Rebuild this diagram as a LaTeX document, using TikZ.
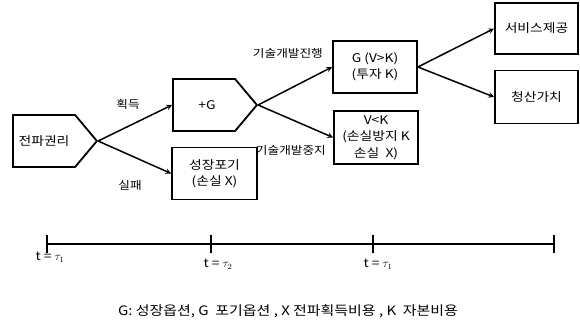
\documentclass[tikz,border=0pt]{standalone}
\usepackage{fontspec}
\setmainfont{Noto Sans CJK KR}[FakeStretch=1.15]
\usetikzlibrary{shapes.symbols, arrows}
\tikzstyle{option} = [
    signal,
    signal to=east,
    signal pointer angle=100,
    minimum width=84pt,
    minimum height=52pt,
    inner sep=0pt,
    line width=1.8pt,
    draw=black
]
\tikzstyle{outcome} = [
    rectangle,
    minimum width=84pt,
    minimum height=52pt,
    align=center,
    line width=1.8pt,
    draw=black
]
\tikzstyle{branch} = [inner sep=1pt, font=\fontsize{11}{14}\selectfont]
\tikzstyle{arrow} = [line width=1.5pt,->,>=stealth]
\tikzstyle{timeline} = [line width=1.1pt]
\tikzstyle{timetick} = [line width=1.8pt]

\begin{document}
\begin{tikzpicture}[x=1pt,y=-1pt,
    font=\fontsize{12}{16.5}\selectfont]

\useasboundingbox (0,0) rectangle (580,326);

\node (right) [option] at (44,141) {전파권리};

\node (plusg) [option] at (204,105) {\hspace{6pt}+G};

\node (giveup) [outcome, minimum width=85pt] at (214.5,173.5)
{성장포기\\(손실 X)};

\node (grow) [outcome] at (375,67)
{G (V>K)\\(투자 K)};

\node (halt) [outcome, minimum height=53pt] at (376,137.5)
{V<K\\(손실방지 K\\손실 \ X)};

\node (serv) [outcome, minimum width=83pt, minimum height=51pt] at (536.5,28.5)
{서비스제공};

\node (salv) [outcome, minimum width=83pt, minimum height=53pt] at (536.5,97)
{청산가치};

\draw [arrow] (right.east) -- (plusg.west);
\draw [arrow] (right.east) -- (giveup.west);
\draw [arrow] (plusg.east) -- (grow.west);
\draw [arrow] (plusg.east) -- (halt.west);
\draw [arrow] (grow.east) -- (serv.west);
\draw [arrow] (grow.east) -- (salv.west);

\node (gain) [branch] at (128,104) {획득};
\node (fail) [branch] at (130,185) {실패};
\node (dev) [branch, anchor=east] at (324,53) {기술개발진행};
\node (stop) [branch, anchor=east] at (327,150) {기술개발중지};

% time axis
\coordinate (t0) at (47,244);
\coordinate (t1) at (211,244);
\coordinate (t2) at (373,244);
\coordinate (t3) at (554,244);
\draw [timeline] (t0) -- (t3);
\foreach \t in {t0,t1,t2,t3}
    \draw [timetick] ([yshift=-9pt]\t) -- ([yshift=9pt]\t);

\node (lab0) [anchor=north] at ([xshift=3pt,yshift=-5pt]t0) {t = $\tau_1$};
\node (lab1) [anchor=north] at ([xshift=7pt,yshift=-12pt]t1) {t = $\tau_2$};
\node (lab2) [anchor=north] at ([xshift=5pt,yshift=-12pt]t2) {t = $\tau_1$};

\node (note) [font=\fontsize{13}{16}\selectfont] at (288,311)
{G: 성장옵션,\ G \ 포기옵션 , X 전파획득비용 , K \ 자본비용};

\end{tikzpicture}
\end{document}
